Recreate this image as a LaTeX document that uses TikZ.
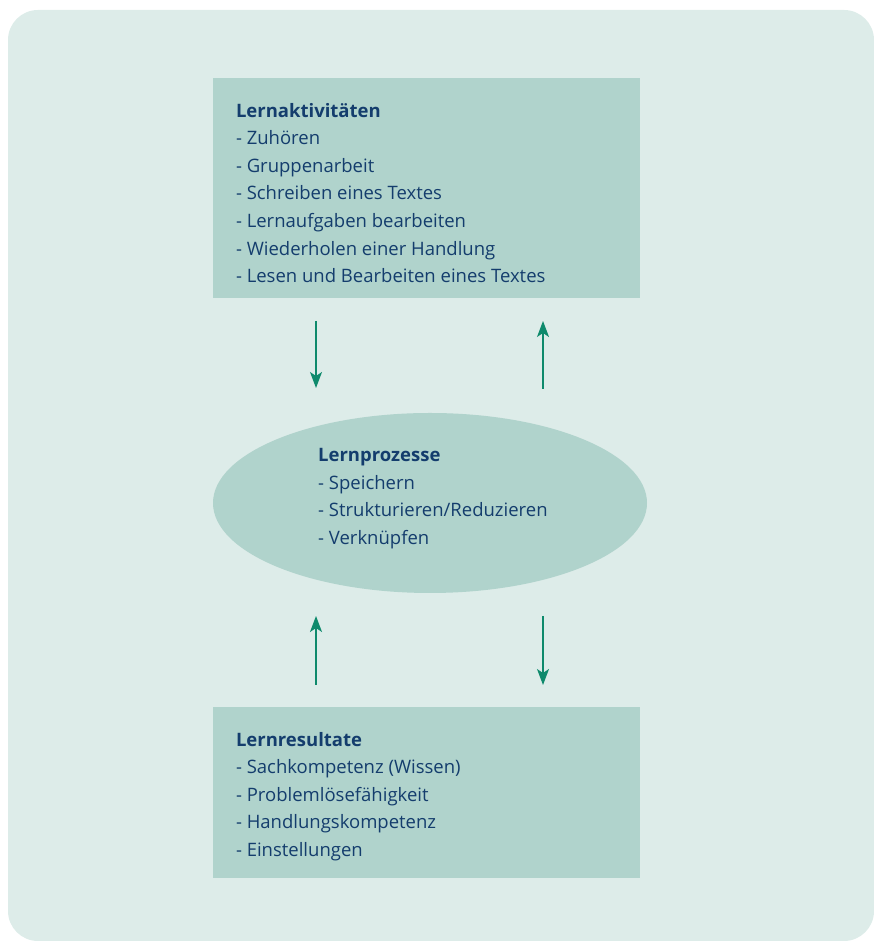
\documentclass[tikz,border=0pt]{standalone}
\usepackage{fontspec}
\setmainfont{Open Sans}
\usepackage{xcolor}
\usetikzlibrary{arrows.meta,positioning,shapes.geometric}

\definecolor{grund}{HTML}{DDECE9}
\definecolor{feld}{HTML}{B0D3CC}
\definecolor{schrift}{HTML}{143D6D}
\definecolor{pfeilgruen}{HTML}{0E8A6C}

\tikzset{
  feldbox/.style={fill=feld, draw=none, minimum width=427pt, inner sep=0pt},
  liste/.style={text=schrift, align=left, inner sep=0pt,
    font=\fontsize{18.5}{27.6}\selectfont},
  pfeil/.style={draw=pfeilgruen, line width=1.3pt,
    -{Stealth[length=16pt,width=12pt,inset=4pt]}}
}

\begin{document}
\begin{tikzpicture}[x=1pt,y=1pt]
    \useasboundingbox (0,0) rectangle (874,941);
    \fill[grund, rounded corners=30pt] (8,0) rectangle (874,931);

    \node[feldbox, minimum height=220pt] (akt) at (426.5,753) {};
    \node[ellipse, fill=feld, minimum width=434pt, minimum height=180pt, inner sep=0pt] (proz) at (430,438) {};
    \node[feldbox, minimum height=171pt] (res) at (426.5,148.5) {};

    \node[liste, below right=25pt and 23pt of akt.north west] (aktT) {\textbf{Lernaktivitäten}\\
      - Zuhören\\
      - Gruppenarbeit\\
      - Schreiben eines Textes\\
      - Lernaufgaben bearbeiten\\
      - Wiederholen einer Handlung\\
      - Lesen und Bearbeiten eines Textes};
    \node[liste, anchor=north west] (prozT) at (318,493) {\textbf{Lernprozesse}\\
      - Speichern\\
      - Strukturieren/Reduzieren\\
      - Verknüpfen};
    \node[liste, below right=25pt and 23pt of res.north west] (resT) {\textbf{Lernresultate}\\
      - Sachkompetenz (Wissen)\\
      - Problemlösefähigkeit\\
      - Handlungskompetenz\\
      - Einstellungen};

    \coordinate (obenL) at (316,620);
    \coordinate (mitteL) at (316,553);
    \coordinate (obenR) at (543,620);
    \coordinate (mitteR) at (543,552);
    \coordinate (untenL) at (316,256);
    \coordinate (tiefL) at (316,325);
    \coordinate (untenR) at (543,256);
    \coordinate (tiefR) at (543,325);

    \draw[pfeil] (obenL) -- (mitteL);
    \draw[pfeil] (mitteR) -- (obenR);
    \draw[pfeil] (untenL) -- (tiefL);
    \draw[pfeil] (tiefR) -- (untenR);
\end{tikzpicture}
\end{document}
